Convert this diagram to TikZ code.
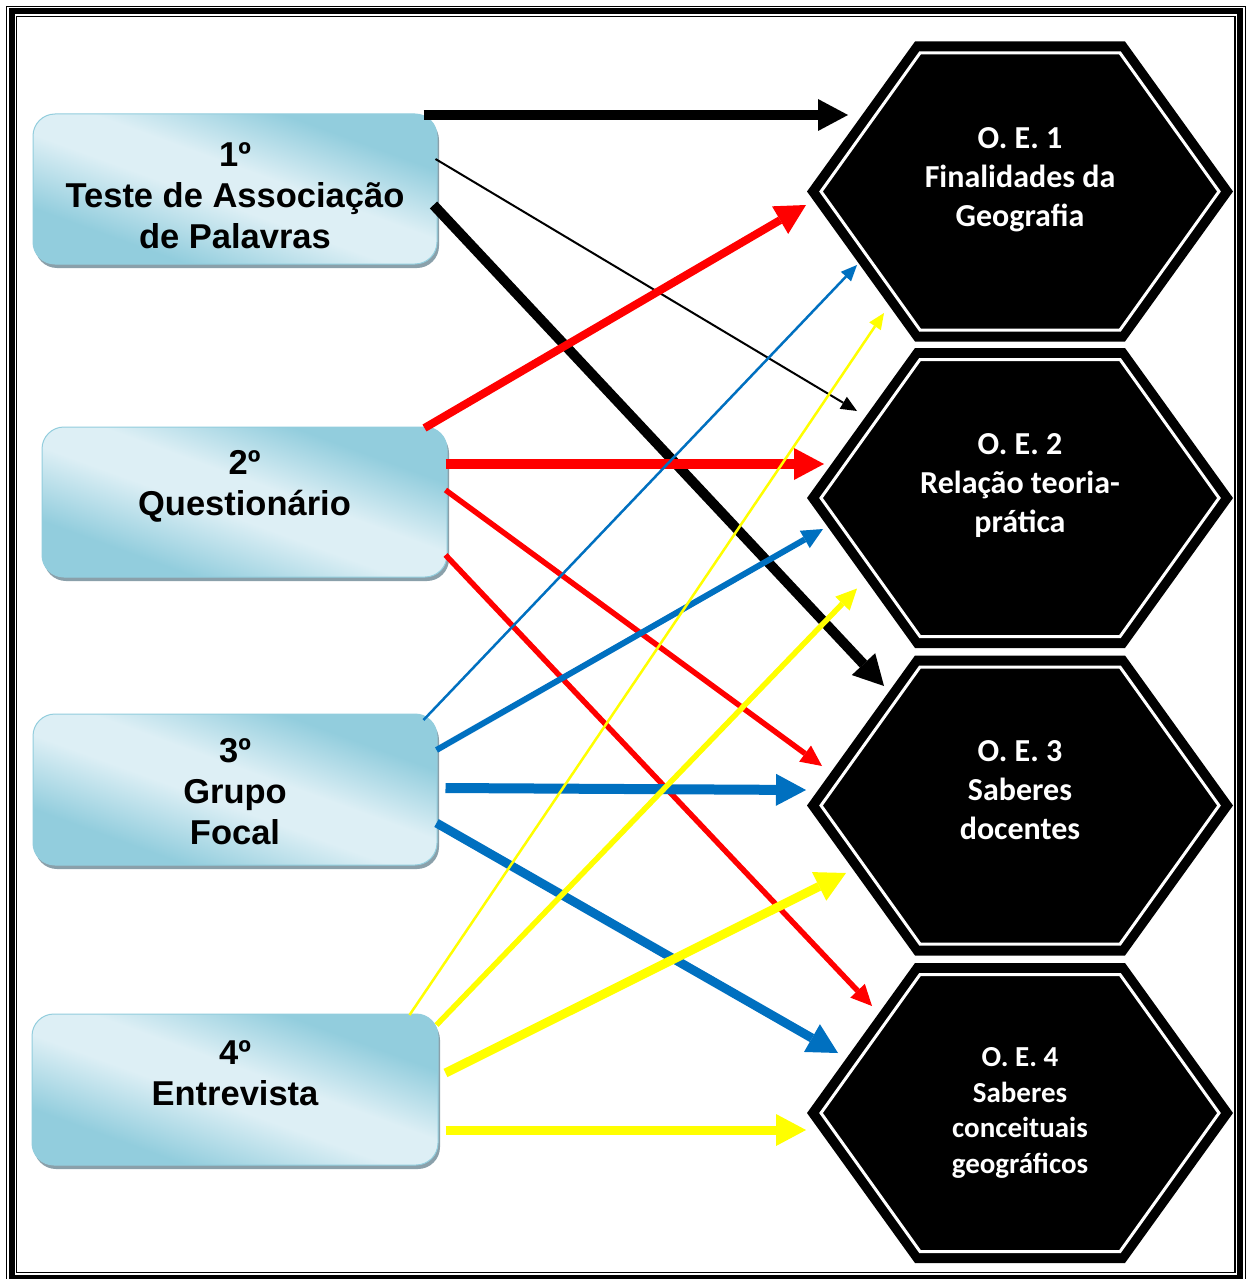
\documentclass[tikz,border=0pt]{standalone}
\usepackage{fontspec}
\setmainfont{Liberation Sans}
\newfontfamily\calibfont{Carlito}
\usepackage{xcolor}
\usepackage{tikz}
\usetikzlibrary{arrows.meta,calc,shadows}

\definecolor{boxdark}{RGB}{146,205,221}
\definecolor{boxlight}{RGB}{221,239,245}
\definecolor{boxshadow}{RGB}{138,160,170}
\definecolor{arrred}{RGB}{255,0,0}
\definecolor{arrblue}{RGB}{0,112,192}
\definecolor{arryellow}{RGB}{255,255,0}
\pgfdeclarehorizontalshading{boxgrad}{100bp}{color(0bp)=(boxdark); color(30bp)=(boxdark); color(46bp)=(boxlight); color(55bp)=(boxlight); color(70bp)=(boxdark); color(100bp)=(boxdark)}

\begin{document}
\begin{tikzpicture}[x=1pt,y=-1pt,
  methodbox/.style={rounded corners=22pt,draw=boxdark,line width=1pt,shading=boxgrad,shading angle=70,
    minimum width=404pt,minimum height=150pt,inner sep=0pt,
    general shadow={fill=boxshadow,shadow xshift=2pt,shadow yshift=-4pt}},
  boxtext/.style={font=\bfseries\fontsize{34.5}{41}\selectfont,align=center,inner sep=0pt},
  hextext/.style={text=white,align=center,inner sep=0pt},
  bigarr/.style={line width=10pt,-{Triangle[length=30pt,width=32pt,line width=0pt]}},
  midarr/.style={line width=5.5pt,-{Triangle[length=21pt,width=20pt,line width=0pt]}},
  thinarr/.style={line width=2.5pt,-{Triangle[length=16pt,width=14pt,line width=0pt]}}]
  \useasboundingbox (0,0) rectangle (1246,1279);
  \fill[white] (0,0) rectangle (1246,1279);
  \draw[line width=1.2pt] (6.5,6.5) rectangle (1245.2,1283);
  \draw[line width=6pt] (11.5,11.5) rectangle (1240.3,1278);
  \draw[line width=1.5pt] (16.5,16.5) rectangle (1235,1272.5);

  \node[methodbox] (b1) at (235,189) {};
  \node[methodbox,minimum width=405pt] (b2) at (244.5,502) {};
  \node[methodbox,minimum height=151pt] (b3) at (235,789.5) {};
  \node[methodbox,minimum width=406pt,minimum height=151pt] (b4) at (235,1089.5) {};
  \node[boxtext] (t1) at ([shift={(0,7)}]b1.center) {1º\\Teste de Associação\\de Palavras};
  \node[boxtext] (t2) at ([shift={(0,-16)}]b2.center) {2º\\Questionário};
  \node[boxtext] (t3) at ([shift={(0,2.5)}]b3.center) {3º\\Grupo\\Focal};
  \node[boxtext] (t4) at ([shift={(0,-16)}]b4.center) {4º\\Entrevista};

  \foreach \i/\cy/\ty/\fs/\ls/\txt in {1/191.5/-11.5/32/39/{O. E. 1\\Finalidades da\\Geografia},
      2/498/-12/32/39/{O. E. 2\\Relação teoria-\\prática},
      3/805.5/-15/32/39/{O. E. 3\\Saberes\\docentes},
      4/1113/0/29/35.7/{O. E. 4\\Saberes\\conceituais\\geográficos}}{
    \begin{scope}[shift={(1020,\cy)}]
      \coordinate (h\i) at (0,0);
      \fill (-213,0) -- (-105,-150) -- (105,-150) -- (213,0) -- (105,150) -- (-105,150) -- cycle;
      \draw[white,line width=3pt] (-199,0) -- (-100,-138.5) -- (100,-138.5) -- (199,0) -- (100,138.5) -- (-100,138.5) -- cycle;
      \node[hextext,font=\calibfont\bfseries\fontsize{\fs}{\ls}\selectfont] (oe\i) at (0,\ty) {\txt};
    \end{scope}
  }

  \draw[bigarr] ([shift={(-14,-74)}]b1.east) -- ([shift={(-172,-76.5)}]h1);
  \draw[thinarr,line width=2pt] ([shift={(-2,-30)}]b1.east) -- ([shift={(-163,-87)}]h2);
  \draw[bigarr] ([shift={(-4,16)}]b1.east) -- ([shift={(-136,-119.5)}]h3);

  \draw[bigarr,arrred,line width=8pt] ([shift={(-23,-74)}]b2.east) -- ([shift={(-214,13.5)}]h1);
  \draw[bigarr,arrred] ([shift={(-2,-38)}]b2.east) -- ([shift={(-196,-34)}]h2);
  \draw[midarr,arrred] ([shift={(-2,-12)}]b2.east) -- ([shift={(-198,-39.5)}]h3);
  \draw[midarr,arrred] ([shift={(-2,53)}]b2.east) -- ([shift={(-148,-107)}]h4);

  \draw[thinarr,arrblue] ([shift={(-14,-69.5)}]b3.east) -- ([shift={(-163,73.5)}]h1);
  \draw[midarr,arrblue,line width=6pt] ([shift={(-1,-39.5)}]b3.east) -- ([shift={(-197,31)}]h2);
  \draw[bigarr,arrblue] ([shift={(8,-1.5)}]b3.east) -- ([shift={(-214,-15.5)}]h3);
  \draw[bigarr,arrblue,line width=9pt] ([shift={(-1,33.5)}]b3.east) -- ([shift={(-182,-60)}]h4);

  \draw[thinarr,arryellow] ([shift={(-29,-74.5)}]b4.east) -- ([shift={(-136,121.5)}]h1);
  \draw[midarr,arryellow] ([shift={(-2,-64.5)}]b4.east) -- ([shift={(-163,90.5)}]h2);
  \draw[bigarr,arryellow,line width=9pt] ([shift={(7,-16.5)}]b4.east) -- ([shift={(-174,67.5)}]h3);
  \draw[bigarr,arryellow,line width=9pt] ([shift={(7,40.5)}]b4.east) -- ([shift={(-214,17)}]h4);
\end{tikzpicture}
\end{document}
